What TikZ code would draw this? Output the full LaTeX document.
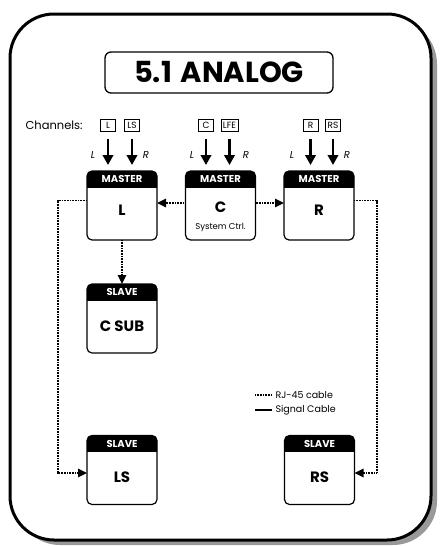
\documentclass[tikz,border=0pt]{standalone}
\usepackage{fontspec}
\setmainfont{Poppins}
\usetikzlibrary{arrows.meta, positioning}

\begin{document}
\begin{tikzpicture}[x=1pt, y=1pt,
  unit/.style={draw, line width=1.2pt, rounded corners=5pt, minimum width=70pt, minimum height=69pt, outer sep=0pt, inner sep=0pt},
  hdrtxt/.style={text=white, font=\bfseries\fontsize{10}{11}\selectfont},
  unitlbl/.style={font=\bfseries\fontsize{15}{17}\selectfont},
  chbox/.style={draw, line width=0.8pt, inner xsep=2pt, inner ysep=1pt, minimum width=15pt, minimum height=11.5pt, font=\fontsize{9}{10}\selectfont},
  sigarr/.style={-{Triangle[length=10pt,width=10.5pt]}, line width=2.2pt, shorten >=6pt},
  rjarr/.style={-{Triangle[length=9pt,width=8.5pt]}, line width=1.6pt, dash pattern=on 1pt off 0.6pt},
  lr/.style={font=\itshape\fontsize{10}{11}\selectfont},
  lgd/.style={anchor=west, font=\fontsize{9.5}{10}\selectfont}
]
\useasboundingbox (0,0) rectangle (440,-546);

% frame with shadow
\fill[gray!80, rounded corners=44pt] (16,-20) rectangle (437,-545);
\draw[line width=3pt, fill=white, rounded corners=44pt] (10,-14) rectangle (431,-540);

\node[draw, line width=1.3pt, rounded corners=6pt, minimum width=228pt, minimum height=41pt,
  font=\bfseries\fontsize{29}{31}\selectfont] (title) at (219,-72.5) {5.1\hspace{0.3em}ANALOG};

% units
\foreach \nm/\x/\y/\role/\txt/\ty in {mL/122/-205.5/MASTER/L/-210, mC/220.5/-205.5/MASTER/C/-207,
    mR/319/-205.5/MASTER/R/-210, sCS/122/-318.5/SLAVE/C SUB/-326,
    sLS/122/-470/SLAVE/LS/-477, sRS/319.5/-470/SLAVE/RS/-477} {
  \node[unit] (\nm) at (\x,\y) {};
  \begin{scope}
    \clip (\nm.north west) rectangle ([yshift=-16pt]\nm.north east);
    \fill[rounded corners=5pt] (\nm.north west) rectangle (\nm.south east);
  \end{scope}
  \node[hdrtxt] at ([yshift=-8pt]\nm.north) {\role};
  \node[unitlbl] at (\x,\ty) {\txt};
}
\node[font=\fontsize{8.5}{9}\selectfont] (ctrl) at (220.5,-227) {System Ctrl.};

% channels
\node[anchor=west, font=\fontsize{11.5}{13}\selectfont] (chan) at (22,-125) {Channels:};
\foreach \nm/\x/\txt in {chL/108/L, chLS/132/LS, chC/206/C, chLFE/229.5/LFE, chR/310.5/R, chRS/333/RS}
  \node[chbox] (\nm) at (\x,-125.5) {\txt};

\foreach \ch/\m in {chL/mL, chLS/mL, chC/mC, chLFE/mC, chR/mR, chRS/mR}
  \draw[sigarr] ([yshift=-7pt]\ch.south) -- (\ch.south |- \m.north);

\foreach \x/\t in {93/L, 146/R, 192/L, 246/R, 292/L, 347/R}
  \node[lr] at (\x,-155) {\t};

% RJ-45 links
\draw[rjarr] ([yshift=2.5pt]mC.west) -- ([yshift=2.5pt]mL.east);
\draw[rjarr] ([yshift=2.5pt]mC.east) -- ([yshift=2.5pt]mR.west);
\draw[rjarr] (mL.south) -- (sCS.north);
\draw[rjarr] ([yshift=5pt]mL.west) -- ++(-29,0) |- ([yshift=-3pt]sLS.west);
\draw[rjarr] ([yshift=5pt]mR.east) -- ++(23,0) |- ([yshift=-3pt]sRS.east);

% legend
\node[lgd] (lgrj) at (272,-395) {RJ-45 cable};
\node[lgd] (lgsig) at (272,-410) {Signal Cable};
\draw[line width=1.6pt, dash pattern=on 1pt off 0.6pt] (lgrj.west) -- ++(-17,0);
\draw[line width=1.6pt] (lgsig.west) -- ++(-17,0);
\end{tikzpicture}
\end{document}
